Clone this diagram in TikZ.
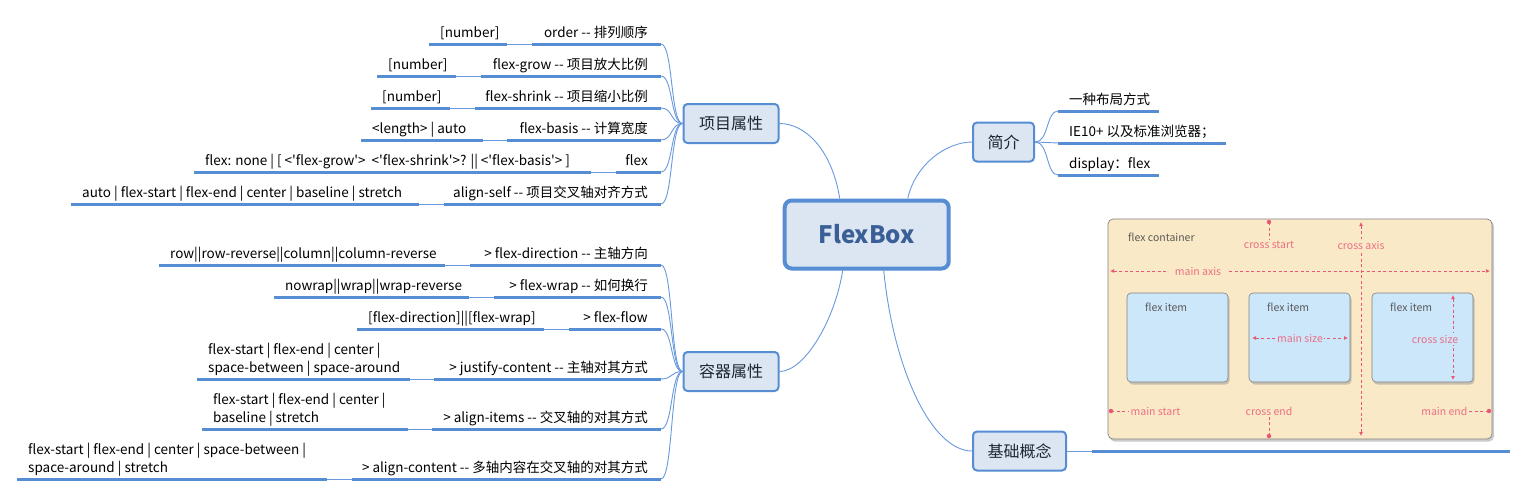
\documentclass[tikz,border=0pt]{standalone}
\usepackage{fontspec}
\setmainfont{Noto Sans CJK SC}[Ligatures=TeXOff]
\usetikzlibrary{calc,arrows.meta}
\definecolor{mmline}{RGB}{86,141,211}
\definecolor{mmthin}{RGB}{104,153,222}
\definecolor{mmfill}{RGB}{220,230,242}
\definecolor{mmtext}{RGB}{58,94,150}
\definecolor{topictext}{RGB}{28,38,52}
\definecolor{axis}{RGB}{232,88,118}
\definecolor{axislabel}{RGB}{236,110,134}
\definecolor{boxfill}{RGB}{249,233,198}
\definecolor{itemfill}{RGB}{204,230,250}
\definecolor{boxedge}{RGB}{130,130,130}

\begin{document}
\begin{tikzpicture}[x=1pt,y=-1pt,
  root/.style={draw=mmline,line width=4pt,fill=mmfill,rounded corners=7pt,minimum width=164pt,minimum height=68pt,
    font=\fontsize{24}{28}\selectfont\bfseries,text=mmtext},
  topic/.style={draw=mmline,line width=2pt,fill=mmfill,rounded corners=4pt,minimum height=39pt,
    font=\fontsize{16}{18}\selectfont,text=topictext},
  key/.style={anchor=base east,inner sep=0pt,font=\fontsize{13.5}{18}\selectfont},
  val/.style={anchor=base west,inner sep=0pt,align=left,font=\fontsize{13.5}{18}\selectfont},
  uline/.style={draw=mmline,line width=3pt},
  link/.style={draw=mmthin,line width=0.9pt},
  pinkdash/.style={draw=axis,line width=0.8pt,dash pattern=on 3pt off 2.5pt},
  pinkarr/.style={pinkdash,{Latex[length=4pt,width=4pt]}-{Latex[length=4pt,width=4pt]}},
  pinklbl/.style={text=axislabel,font=\fontsize{10.5}{12}\selectfont,inner sep=1.5pt},
  greylbl/.style={text=black!65,font=\fontsize{10.5}{12}\selectfont,inner sep=0pt,anchor=west},
  itembox/.style={draw=boxedge,fill=itemfill,rounded corners=4pt,line width=0.6pt}]
  \useasboundingbox[fill=white] (0,0) rectangle (1528,496);

  % main topics
  \node[root] (flex) at (866.7,234.5) {FlexBox};
  \node[topic,minimum width=95pt] (item) at (731,123.5) {项目属性};
  \node[topic,minimum width=95pt] (cont) at (731,371.5) {容器属性};
  \node[topic,minimum width=61pt] (intro) at (1003.5,142) {简介};
  \node[topic,minimum width=93pt] (base) at (1019.5,451) {基础概念};
  \draw[link] ($(flex.north)+(-27,0)$) .. controls +(-8,-50) and +(25,0) .. (item.east);
  \draw[link] ($(flex.south)+(-24,0)$) .. controls +(-8,50) and +(25,0) .. (cont.east);
  \draw[link] ($(flex.north)+(41,0)$) .. controls +(8,-35) and +(-25,0) .. (intro.west);
  \draw[link] ($(flex.south)+(17,0)$) .. controls +(10,100) and +(-40,0) .. (base.west);

  % item properties
  \node[val] (orderV) at (440,37) {[number]};
  \node[key] (order) at (648,37) {order -- 排列顺序};
  \draw[uline] (429,44) -- (507,44) coordinate (orderV1);
  \draw[uline] (532,44) coordinate (order0) -- (661,44) coordinate (order1);
  \draw[link] (orderV1) -- (order0);
  \draw[link] (order1) .. controls +(12,0) and +(-12,0) .. (item.west);

  \node[val] (growV) at (388,69) {[number]};
  \node[key] (grow) at (648,69) {flex-grow -- 项目放大比例};
  \draw[uline] (377,76) -- (456,76) coordinate (growV1);
  \draw[uline] (481,76) coordinate (grow0) -- (661,76) coordinate (grow1);
  \draw[link] (growV1) -- (grow0);
  \draw[link] (grow1) .. controls +(12,0) and +(-12,0) .. (item.west);

  \node[val] (shrinkV) at (382,101) {[number]};
  \node[key] (shrink) at (648,101) {flex-shrink -- 项目缩小比例};
  \draw[uline] (371,108) -- (450,108) coordinate (shrinkV1);
  \draw[uline] (475,108) coordinate (shrink0) -- (661,108) coordinate (shrink1);
  \draw[link] (shrinkV1) -- (shrink0);
  \draw[link] (shrink1) .. controls +(12,0) and +(-12,0) .. (item.west);

  \node[val] (basisV) at (372,133) {<length> | auto};
  \node[key] (basis) at (648,133) {flex-basis -- 计算宽度};
  \draw[uline] (361,140) -- (483,140) coordinate (basisV1);
  \draw[uline] (507,140) coordinate (basis0) -- (661,140) coordinate (basis1);
  \draw[link] (basisV1) -- (basis0);
  \draw[link] (basis1) .. controls +(12,0) and +(-12,0) .. (item.west);

  \node[val] (flexV) at (205,165) {flex: none | [ <'flex-grow'>~ <'flex-shrink'>? || <'flex-basis'> ]};
  \node[key] (flexk) at (648,165) {flex};
  \draw[uline] (194,172) -- (591,172) coordinate (flexV1);
  \draw[uline] (616,172) coordinate (flexk0) -- (661,172) coordinate (flexk1);
  \draw[link] (flexV1) -- (flexk0);
  \draw[link] (flexk1) .. controls +(12,0) and +(-12,0) .. (item.west);

  \node[val] (selfV) at (82,197) {auto | flex-start | flex-end | center | baseline | stretch};
  \node[key] (self) at (648,197) {align-self -- 项目交叉轴对齐方式};
  \draw[uline] (71,204) -- (419,204) coordinate (selfV1);
  \draw[uline] (444,204) coordinate (self0) -- (661,204) coordinate (self1);
  \draw[link] (selfV1) -- (self0);
  \draw[link] (self1) .. controls +(12,0) and +(-12,0) .. (item.west);

  % container properties
  \node[val] (dirV) at (170,258) {row||row-reverse||column||column-reverse};
  \node[key] (dir) at (648,258) {> flex-direction -- 主轴方向};
  \draw[uline] (159,265) -- (445,265) coordinate (dirV1);
  \draw[uline] (470,265) coordinate (dir0) -- (661,265) coordinate (dir1);
  \draw[link] (dirV1) -- (dir0);
  \draw[link] (dir1) .. controls +(12,0) and +(-12,0) .. (cont.west);

  \node[val] (wrapV) at (285,290) {nowrap||wrap||wrap-reverse};
  \node[key] (wrap) at (648,290) {> flex-wrap -- 如何换行};
  \draw[uline] (274,297) -- (469,297) coordinate (wrapV1);
  \draw[uline] (494,297) coordinate (wrap0) -- (661,297) coordinate (wrap1);
  \draw[link] (wrapV1) -- (wrap0);
  \draw[link] (wrap1) .. controls +(12,0) and +(-12,0) .. (cont.west);

  \node[val] (flowV) at (368,322) {[flex-direction]||[flex-wrap]};
  \node[key] (flow) at (648,322) {> flex-flow};
  \draw[uline] (357,329) -- (544,329) coordinate (flowV1);
  \draw[uline] (569,329) coordinate (flow0) -- (661,329) coordinate (flow1);
  \draw[link] (flowV1) -- (flow0);
  \draw[link] (flow1) .. controls +(12,0) and +(-12,0) .. (cont.west);

  \node[val] (justV) at (208,372) {flex-start | flex-end | center |\\space-between | space-around};
  \node[key] (just) at (648,372) {> justify-content -- 主轴对其方式};
  \draw[uline] (197,379) -- (410,379) coordinate (justV1);
  \draw[uline] (434,379) coordinate (just0) -- (661,379) coordinate (just1);
  \draw[link] (justV1) -- (just0);
  \draw[link] (just1) .. controls +(12,0) and +(-12,0) .. (cont.west);

  \node[val] (itemsV) at (213,422) {flex-start | flex-end | center |\\baseline | stretch};
  \node[key] (items) at (648,422) {> align-items -- 交叉轴的对其方式};
  \draw[uline] (202,429) -- (408,429) coordinate (itemsV1);
  \draw[uline] (432,429) coordinate (items0) -- (661,429) coordinate (items1);
  \draw[link] (itemsV1) -- (items0);
  \draw[link] (items1) .. controls +(12,0) and +(-12,0) .. (cont.west);

  \node[val] (acontV) at (28,472) {flex-start | flex-end | center | space-between |\\space-around | stretch};
  \node[key] (acont) at (648,472) {> align-content -- 多轴内容在交叉轴的对其方式};
  \draw[uline] (17,479) -- (327,479) coordinate (acontV1);
  \draw[uline] (352,479) coordinate (acont0) -- (661,479) coordinate (acont1);
  \draw[link] (acontV1) -- (acont0);
  \draw[link] (acont1) .. controls +(12,0) and +(-12,0) .. (cont.west);

  % intro
  \node[val] (way) at (1069,104) {一种布局方式};
  \node[val] (ie) at (1069,136) {IE10+ 以及标准浏览器；};
  \node[val] (disp) at (1069,168) {display：flex};
  \draw[uline] (1058,111) coordinate (way0) -- (1159,111);
  \draw[uline] (1058,143) coordinate (ie0) -- (1226,143);
  \draw[uline] (1058,175) coordinate (disp0) -- (1159,175);
  \draw[link] (intro.east) .. controls +(14,0) and +(-12,0) .. (way0);
  \draw[link] (intro.east) -- (ie0);
  \draw[link] (intro.east) .. controls +(14,0) and +(-12,0) .. (disp0);

  % basic concepts: flex container sketch
  \draw[uline] (1092,451) coordinate (pic0) -- (1510,451);
  \draw[link] (base.east) -- (pic0);
  \fill[black!40,opacity=0.5,rounded corners=5pt] (1109.5,221) rectangle (1494,441.5);
  \draw[boxedge,fill=boxfill,rounded corners=5pt,line width=0.7pt] (1108,219) rectangle (1492,439);
  \node[greylbl] (fc) at (1128,237) {flex container};
  \foreach \x/\n in {1127/itA,1249/itB,1372/itC}{
    \fill[black!40,opacity=0.5,rounded corners=4pt] (\x+1.5,295) rectangle (\x+102.5,384.5);
    \draw[itembox] (\x,293) rectangle (\x+101,382);
    \node[greylbl] (\n) at (\x+18,307) {flex item};
  }
  % main axis
  \draw[pinkarr] (1110,271) -- (1490,271);
  \node[pinklbl,fill=boxfill,inner xsep=8pt] (maxis) at (1198,271) {main axis};
  % cross axis
  \draw[pinkarr] (1361,222) -- (1361,436);
  \node[pinklbl,fill=boxfill] (caxis) at (1361,245) {cross axis};
  % cross start / cross end
  \node[pinklbl] (cstart) at (1269,245) {cross start};
  \fill[axis] (1269,222) coordinate (cs) circle (2.2pt);
  \draw[pinkdash] (cs) -- (cstart.north);
  \node[pinklbl] (cend) at (1269,411) {cross end};
  \fill[axis] (1269,436) coordinate (ce) circle (2.2pt);
  \draw[pinkdash] (cend.south) -- (ce);
  % main start / main end
  \node[pinklbl,anchor=west] (mstart) at (1129,411) {main start};
  \fill[axis] (1111,411) coordinate (ms) circle (2.2pt);
  \draw[pinkdash] (ms) -- (mstart.west);
  \node[pinklbl,anchor=east] (mend) at (1469,411) {main end};
  \fill[axis] (1489,411) coordinate (me) circle (2.2pt);
  \draw[pinkdash] (mend.east) -- (me);
  % item sizes
  \draw[pinkarr] (1252,338) -- (1348,338);
  \node[pinklbl,fill=itemfill] (msize) at (1300,338) {main size};
  \draw[pinkarr] (1453,295) -- (1453,380);
  \node[pinklbl,fill=itemfill] (csize) at (1435,339) {cross size};
\end{tikzpicture}
\end{document}
